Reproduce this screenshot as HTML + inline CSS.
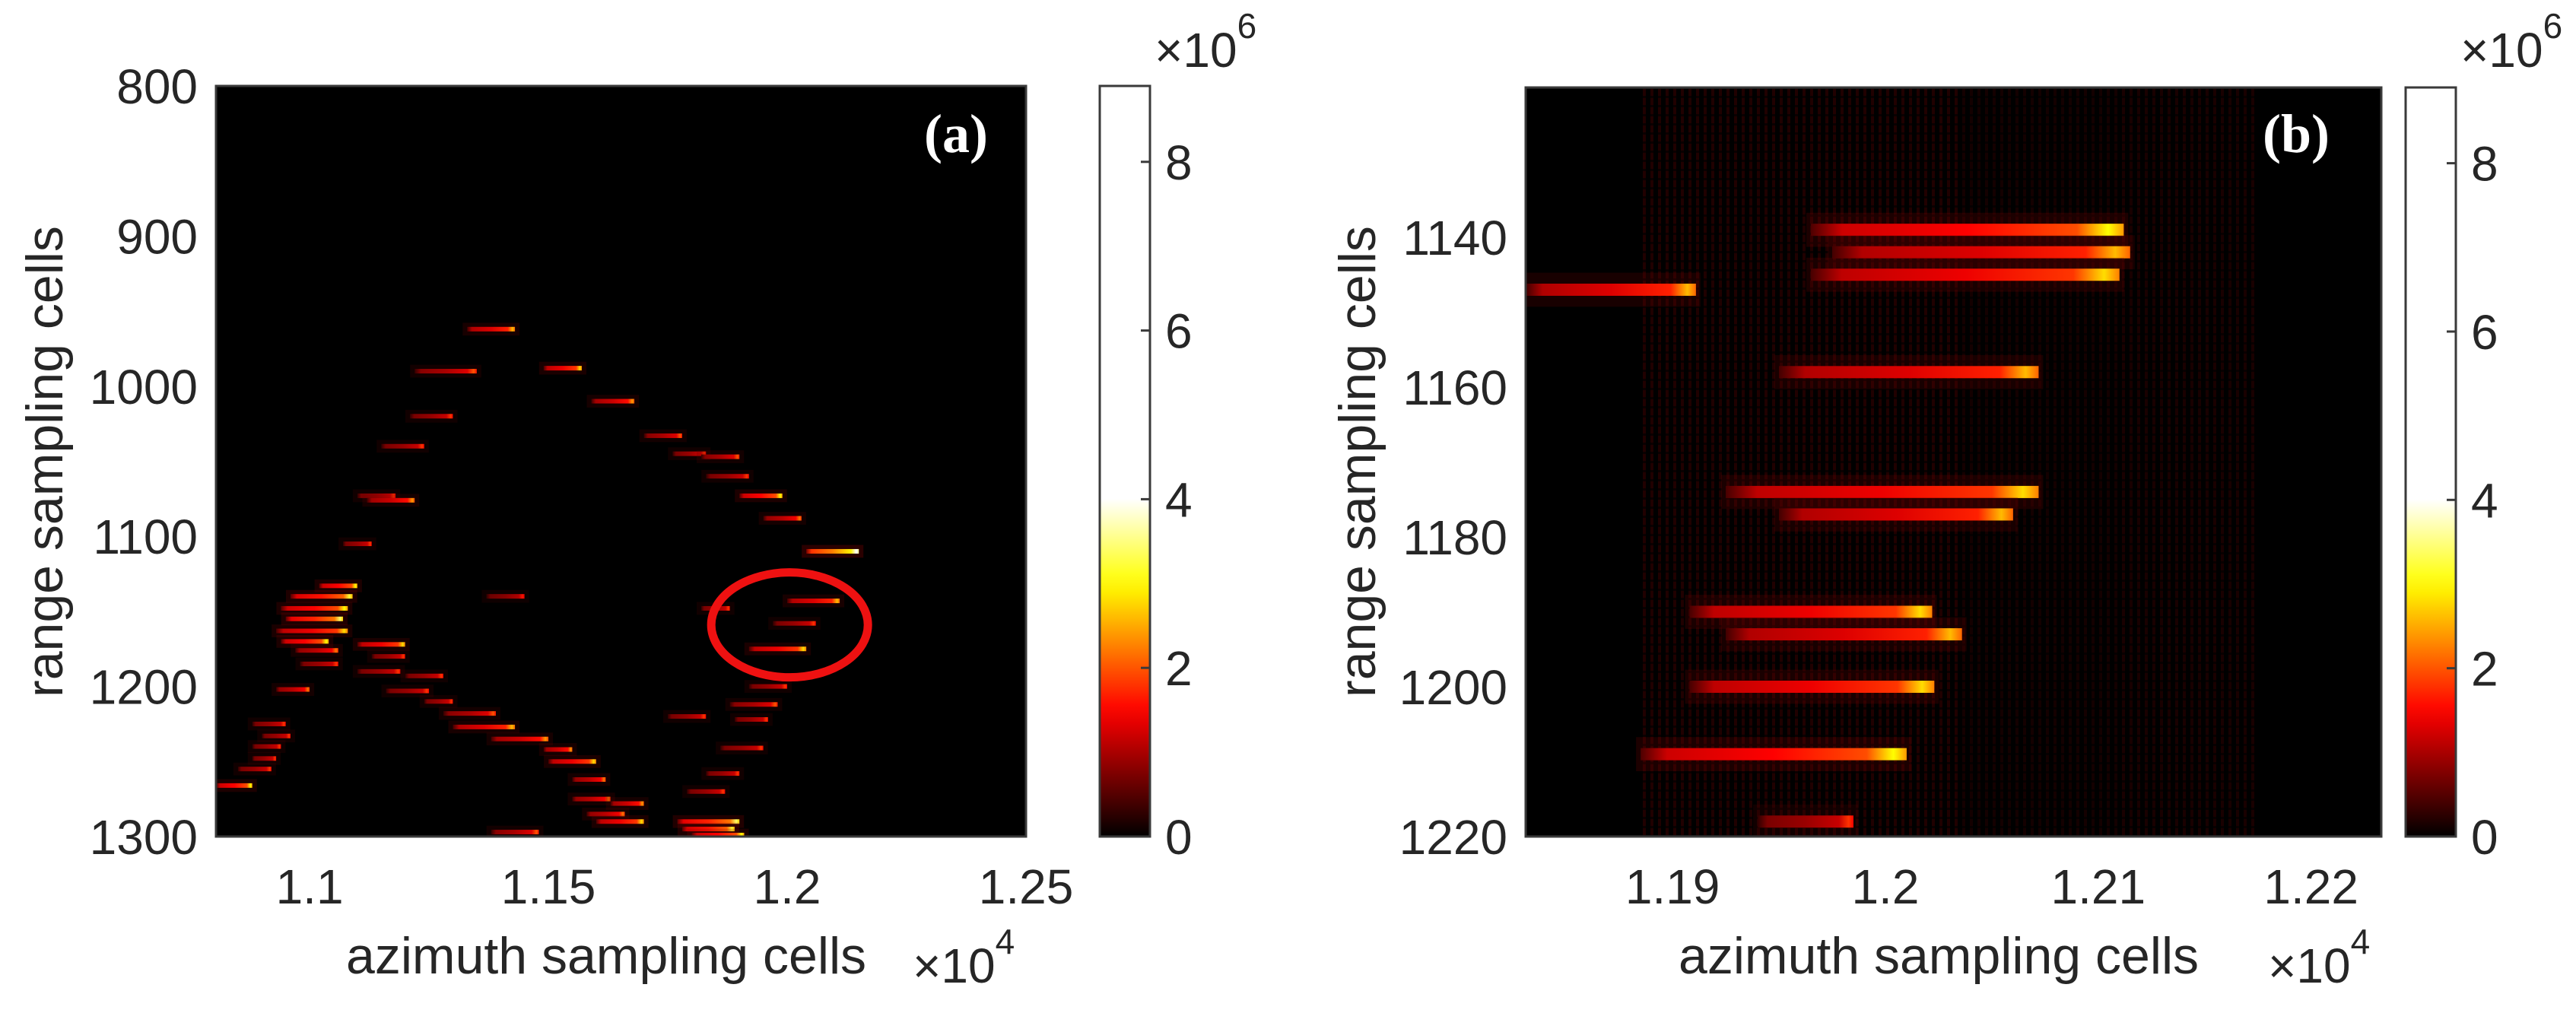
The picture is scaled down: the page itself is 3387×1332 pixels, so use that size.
<!DOCTYPE html>
<html><head><meta charset="utf-8">
<style>
html,body{margin:0;padding:0;background:#fff;}
svg{display:block;}
text{font-family:"Liberation Sans",Arial,sans-serif;fill:#262626;}
</style></head>
<body>
<svg id="fig" width="3387" height="1332" viewBox="0 0 3387 1332" xmlns="http://www.w3.org/2000/svg">
<defs id="defs">
<pattern id="stripes" width="10" height="12" patternUnits="userSpaceOnUse">
<rect x="0" y="0" width="4" height="12" fill="#5a0000"/>
<rect x="0" y="6" width="4" height="3" fill="#200000"/>
</pattern>
</defs>
</svg>
<script>
// ---------- Panel (a) data: range row, azimuth start/end (x10^4), peak intensity (x10^6) ----------
const aRange = [962,990,988,1010,1020,1033,1040,1045,1047,1060,1073,1076,1073,1088,1105,1110,1140,1143,1148,1158,1175,1172,1180,1185,1190,1193,1200,1202,1203,1210,1212,1218,1220,1222,1225,1227,1233,1235,1240,1242,1241,1248,1250,1255,1258,1262,1266,1270,1275,1278,1285,1290,1297,1133,1140,1148,1155,1163,1170,1176,1290,1295,1299];
const aStart = [1.133,1.122,1.149,1.159,1.121,1.170,1.115,1.176,1.182,1.183,1.110,1.112,1.190,1.195,1.107,1.204,1.137,1.200,1.182,1.197,1.192,1.110,1.113,1.098,1.110,1.120,1.192,1.093,1.116,1.124,1.188,1.128,1.175,1.189,1.088,1.130,1.090,1.138,1.088,1.149,1.186,1.088,1.150,1.085,1.183,1.155,1.0805,1.179,1.155,1.163,1.158,1.160,1.138,1.102,1.096,1.094,1.095,1.093,1.094,1.097,1.177,1.178,1.180];
const aEnd   = [1.143,1.135,1.157,1.168,1.130,1.178,1.124,1.183,1.190,1.192,1.118,1.122,1.199,1.203,1.113,1.215,1.145,1.211,1.188,1.206,1.204,1.120,1.120,1.106,1.119,1.128,1.200,1.100,1.125,1.130,1.198,1.139,1.183,1.196,1.095,1.143,1.096,1.150,1.094,1.155,1.195,1.093,1.160,1.092,1.190,1.162,1.088,1.187,1.163,1.170,1.166,1.170,1.148,1.110,1.109,1.108,1.107,1.108,1.104,1.106,1.190,1.189,1.191];
const aPeak  = [2.6,2.0,2.8,2.4,1.8,2.0,1.8,1.8,2.0,1.8,1.8,2.4,3.0,2.2,1.8,4.5,1.6,2.6,1.8,1.8,2.8,2.8,1.8,1.8,1.8,1.8,1.8,2.2,1.8,1.8,2.0,2.0,1.8,1.8,1.8,2.6,1.8,2.4,1.8,2.4,1.8,1.8,2.8,1.8,1.8,2.2,3.0,1.8,2.2,2.4,2.2,2.8,2.0,3.0,3.2,3.0,3.4,2.8,3.0,2.2,3.4,3.2,3.0];
const aXTicks = [1.1,1.15,1.2,1.25];
const aXTickLabels = ["1.1","1.15","1.2","1.25"];
const aYTicks = [800,900,1000,1100,1200,1300];

// ---------- Panel (b) data ----------
const bRange = [1147,1139,1142,1145,1158,1174,1177,1190,1193,1200,1209,1218];
const bStart = [1.1831,1.1965,1.1975,1.1965,1.1950,1.1925,1.1950,1.1908,1.1925,1.1908,1.1885,1.1940];
const bEnd   = [1.1911,1.2112,1.2115,1.2110,1.2072,1.2072,1.2060,1.2022,1.2036,1.2023,1.2010,1.1985];
const bPeak  = [2.6,3.0,2.6,2.8,2.6,2.8,2.6,2.8,2.6,2.8,3.0,1.8];
const bXTicks = [1.19,1.2,1.21,1.22];
const bXTickLabels = ["1.19","1.2","1.21","1.22"];
const bYTicks = [1140,1160,1180,1200,1220];

const cbTicks = [0,2,4,6,8];
const cbMax = 8.9;

const NS = "http://www.w3.org/2000/svg";
const svg = document.getElementById('fig');
const defs = document.getElementById('defs');
function mk(tag, attrs, parent){const e=document.createElementNS(NS,tag);for(const k in attrs)e.setAttribute(k,attrs[k]);(parent||svg).appendChild(e);return e;}

function hot(v){
  const t=Math.max(0,Math.min(1,v/4.0));
  const r=Math.min(1,t/0.375), g=Math.max(0,Math.min(1,(t-0.375)/0.375)), b=Math.max(0,Math.min(1,(t-0.75)/0.25));
  return `rgb(${Math.round(r*255)},${Math.round(g*255)},${Math.round(b*255)})`;
}

let gid=0;
function panel(cfg){
  const {x0,x1,y0,y1,az0,az1,r0,r1,ranges,starts,ends,peaks,xt,xtl,yt,thick,name,cbx,letter,letterX} = cfg;
  const X=v=>x0+(v-az0)/(az1-az0)*(x1-x0);
  const Y=v=>y0+(v-r0)/(r1-r0)*(y1-y0);
  const g=mk('g',{});
  
  
  const clip=mk('clipPath',{id:'clip'+name},defs);
  mk('rect',{x:x0,y:y0,width:x1-x0,height:y1-y0},clip);
  const bg=mk('rect',{x:x0,y:y0,width:x1-x0,height:y1-y0,fill:'#000'},g);
  
  
  const hm=mk('g',{'clip-path':`url(#clip${name})`},g);
  
  
  if(cfg.texture){
    cfg.texture.forEach(([a,b,o])=>{
      const t=mk('rect',{x:X(a),y:y0,width:X(b)-X(a),height:y1-y0,fill:'url(#stripes)',opacity:o},hm);
      
      
    });
  }
  for(let i=0;i<ranges.length;i++){
    const xa=X(starts[i]), xb=X(ends[i]), yc=Y(ranges[i]);
    const id='gr'+(gid++);
    const lg=mk('linearGradient',{id:id,x1:'0',x2:'1',y1:'0',y2:'0'},defs);
    const pk=peaks[i];
    [[0,0.15],[0.1,0.4],[0.5,0.5],[0.85,0.65],[0.95,1],[1,0.8]].forEach(([o,f])=>mk('stop',{offset:o,'stop-color':hot(pk*f)},lg));
    const halo=mk('rect',{x:xa-6,y:yc-thick*1.4,width:xb-xa+12,height:thick*2.8,fill:hot(pk*0.25),opacity:0.22},hm);
    
    
    const r=mk('rect',{x:xa,y:yc-thick/2,width:Math.max(2,xb-xa),height:thick,fill:`url(#${id})`},hm);
    
    
  }
  const fr=mk('rect',{x:x0,y:y0,width:x1-x0,height:y1-y0,fill:'none',stroke:'#3a3a3a','stroke-width':3},g);
  
  
  xt.forEach((v,i)=>{
    const t=mk('text',{x:X(v),y:y1+88,'font-size':64,'text-anchor':'middle'},g);t.textContent=xtl[i];
    
    
  });
  yt.forEach(v=>{
    const t=mk('text',{x:x0-24,y:Y(v)+23,'font-size':64,'text-anchor':'end'},g);t.textContent=String(v);
    
    
  });
  const xtT=mk('text',{x:cfg.xTitleX,y:1280,'font-size':68},g);xtT.textContent='azimuth sampling cells';
  
  
  const xm=mk('text',{x:cfg.xMultX,y:1292,'font-size':64},g);
  
  
  xm.innerHTML='×10<tspan dy="-38" font-size="46">4</tspan>';
  const ytT=mk('text',{x:0,y:0,'font-size':68,'text-anchor':'middle',transform:`translate(${cfg.yTitleX},607) rotate(-90)`},g);ytT.textContent='range sampling cells';
  
  
  const lt=mk('text',{x:letterX,y:200,'font-size':72,'font-weight':'bold',style:'font-family:"Liberation Serif",serif;fill:#fff'},g);lt.textContent=letter;
  
  
  const cbw=66;
  const id='cb'+name;
  const lg=mk('linearGradient',{id:id,x1:'0',x2:'0',y1:'1',y2:'0'},defs);
  for(let k=0;k<=40;k++){const v=k/40*cbMax;mk('stop',{offset:k/40,'stop-color':hot(v)},lg);}
  const cb=mk('rect',{x:cbx,y:y0,width:cbw,height:y1-y0,fill:`url(#${id})`,stroke:'#3a3a3a','stroke-width':3},g);
  
  
  const CY=v=>y1-(v/cbMax)*(y1-y0);
  cbTicks.forEach(v=>{
    const tk=mk('line',{x1:cbx+cbw-12,x2:cbx+cbw,y1:CY(v),y2:CY(v),stroke:'#3a3a3a','stroke-width':3},g);
    
    
    const t=mk('text',{x:cbx+cbw+20,y:CY(v)+23,'font-size':64},g);t.textContent=String(v);
    
    
  });
  const cm=mk('text',{x:cbx+72,y:88,'font-size':64},g);
  
  
  cm.innerHTML='×10<tspan dy="-38" font-size="46">6</tspan>';
  return {X,Y};
}

const pa=panel({name:'a',x0:284,x1:1349,y0:113,y1:1100,az0:1.0804,az1:1.25,r0:800,r1:1300,
  ranges:aRange,starts:aStart,ends:aEnd,peaks:aPeak,xt:aXTicks,xtl:aXTickLabels,yt:aYTicks,thick:6,
  cbx:1446,letter:'(a)',letterX:1215,xTitleX:455,xMultX:1200,yTitleX:82});
const pb=panel({name:'b',x0:2006,x1:3131,y0:115,y1:1100,az0:1.1831,az1:1.2233,r0:1120,r1:1220,
  ranges:bRange,starts:bStart,ends:bEnd,peaks:bPeak,xt:bXTicks,xtl:bXTickLabels,yt:bYTicks,thick:16,
  cbx:3163,letter:'(b)',letterX:2975,xTitleX:2207,xMultX:2982,yTitleX:1808,
  texture:[[1.1885,1.2035,0.35],[1.2035,1.2110,0.22],[1.2110,1.2175,0.28]]});

const el=mk('ellipse',{cx:pa.X(1.2005),cy:pa.Y(1159),rx:103,ry:69,fill:'none',stroke:'#ee1111','stroke-width':11});


</script>
</body></html>
